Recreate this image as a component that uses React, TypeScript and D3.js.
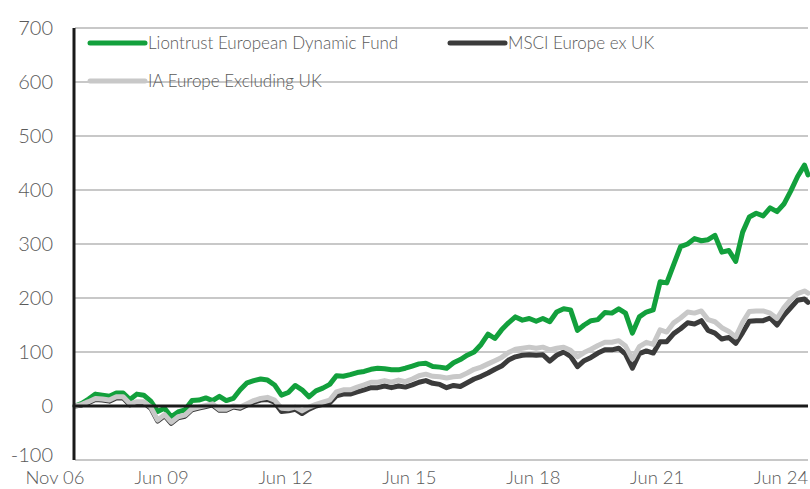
import React from "react";
import * as d3 from "d3";

const dates: string[] = [
  "2006-11",
  "2007-01", "2007-03", "2007-05", "2007-07", "2007-09", "2007-11",
  "2008-01", "2008-03", "2008-05", "2008-07", "2008-09", "2008-11",
  "2009-01", "2009-03", "2009-05", "2009-07", "2009-09", "2009-11",
  "2010-01", "2010-03", "2010-05", "2010-07", "2010-09", "2010-11",
  "2011-01", "2011-03", "2011-05", "2011-07", "2011-09", "2011-11",
  "2012-01", "2012-03", "2012-05", "2012-07", "2012-09", "2012-11",
  "2013-01", "2013-03", "2013-05", "2013-07", "2013-09", "2013-11",
  "2014-01", "2014-03", "2014-05", "2014-07", "2014-09", "2014-11",
  "2015-01", "2015-03", "2015-05", "2015-07", "2015-09", "2015-11",
  "2016-01", "2016-03", "2016-05", "2016-07", "2016-09", "2016-11",
  "2017-01", "2017-03", "2017-05", "2017-07", "2017-09", "2017-11",
  "2018-01", "2018-03", "2018-05", "2018-07", "2018-09", "2018-11",
  "2019-01", "2019-03", "2019-05", "2019-07", "2019-09", "2019-11",
  "2020-01", "2020-03", "2020-05", "2020-07", "2020-09", "2020-11",
  "2021-01", "2021-03", "2021-05", "2021-07", "2021-09", "2021-11",
  "2022-01", "2022-03", "2022-05", "2022-07", "2022-09", "2022-11",
  "2023-01", "2023-03", "2023-05", "2023-07", "2023-09", "2023-11",
  "2024-01", "2024-03", "2024-05", "2024-07", "2024-08",
];

const fund: number[] = [
  0,
  5, 13, 22, 20, 18, 24,
  24, 12, 22, 20, 9, -10,
  -4, -20, -11, -7, 10, 11,
  15, 10, 18, 10, 14, 30,
  43, 47, 50, 48, 39, 20,
  25, 38, 30, 17, 28, 33,
  40, 56, 55, 58, 62, 64,
  68, 70, 69, 67, 67, 70,
  74, 78, 79, 73, 72, 70,
  80, 86, 94, 100, 114, 133,
  125, 141, 154, 165, 159, 162,
  157, 162, 156, 174, 180, 178,
  140, 150, 158, 160, 173, 172,
  180, 172, 135, 165, 174, 178,
  230, 228, 262, 295, 300, 310,
  306, 308, 316, 285, 288, 268,
  322, 350, 357, 352, 367, 360,
  374, 398, 425, 446, 428,
];

const msci: number[] = [
  0,
  2, 6, 12, 11, 9, 15,
  15, 2, 6, 6, -4, -28,
  -18, -32, -22, -19, -7, -4,
  -1, 2, -8, -8, -2, -4,
  2, 7, 11, 12, 7, -10,
  -9, -6, -14, -6, 0, 3,
  6, 19, 22, 22, 26, 30,
  34, 34, 37, 34, 37, 35,
  39, 44, 47, 42, 40, 34,
  38, 36, 43, 50, 55, 61,
  68, 74, 85, 91, 94, 95,
  94, 95, 83, 94, 100, 92,
  73, 84, 90, 98, 104, 104,
  107, 96, 70, 97, 102, 98,
  119, 119, 134, 143, 154, 152,
  158, 140, 135, 124, 127, 116,
  136, 157, 158, 158, 163, 150,
  168, 182, 196, 198, 192,
];

const ia: number[] = [
  0,
  3, 8, 14, 13, 11, 17,
  17, 4, 8, 8, -2, -26,
  -16, -30, -20, -17, -5, -2,
  1, 4, -6, -6, 0, -2,
  4, 10, 14, 16, 11, -4,
  -5, -2, -9, -2, 3, 7,
  11, 26, 30, 30, 35, 39,
  44, 44, 47, 44, 48, 45,
  50, 56, 59, 55, 54, 52,
  54, 55, 61, 68, 72, 78,
  84, 90, 99, 105, 107, 109,
  107, 109, 104, 107, 109, 103,
  91, 99, 105, 112, 118, 118,
  121, 111, 87, 110, 118, 114,
  141, 137, 154, 163, 174, 172,
  176, 160, 156, 145, 138, 128,
  155, 175, 176, 176, 172, 162,
  182, 197, 208, 213, 209,
];

const yTicks: number[] = [-100, 0, 100, 200, 300, 400, 500, 600, 700];
const xTickDates: string[] = ["2006-11", "2009-06", "2012-06", "2015-06", "2018-06", "2021-06", "2024-06"];
const xTickLabels: string[] = ["Nov 06", "Jun 09", "Jun 12", "Jun 15", "Jun 18", "Jun 21", "Jun 24"];

const seriesNames = ["Liontrust European Dynamic Fund", "MSCI Europe ex UK", "IA Europe Excluding UK"];
const seriesColors = ["#12a03c", "#3b3b3b", "#c8c8c8"];

const W = 810;
const H = 489;
const FONT = "Lato, 'Open Sans', sans-serif";
const TEXT = "#5a5a5a";

export default function App() {
  const parse = d3.timeParse("%Y-%m");
  const dts = dates.map((d) => parse(d) as Date);
  const x = d3
    .scaleTime()
    .domain([dts[0], dts[dts.length - 1]])
    .range([75, 808]);
  const y = d3.scaleLinear().domain([-100, 700]).range([460, 28]);

  const line = d3
    .line<number>()
    .x((_, i) => x(dts[i]))
    .y((v) => y(v));

  const series = [fund, msci, ia];

  return (
    <svg
      width={W}
      height={H}
      style={{ position: "absolute", left: 0, top: 0, background: "#fff" }}
    >
      {yTicks
        .filter((t) => t !== 0)
        .map((t) => (
          <line key={"g" + t} x1={75} x2={808} y1={y(t)} y2={y(t)} stroke="#c8c8c8" strokeWidth={2} />
        ))}
      {yTicks.map((t) => (
        <text
          key={"yl" + t}
          x={53}
          y={y(t) - (t === -100 ? 5 : 0)}
          dy="0.35em"
          textAnchor="end"
          fontFamily={FONT}
          fontWeight={300}
          fontSize={20}
          fill={TEXT}
        >
          {t}
        </text>
      ))}
      {xTickDates.map((d, i) => (
        <text
          key={"xl" + d}
          x={x(parse(d) as Date) - 20}
          y={484}
          textAnchor="middle"
          fontFamily={FONT}
          fontWeight={300}
          fontSize={18.5}
          fill={TEXT}
        >
          {xTickLabels[i]}
        </text>
      ))}
      {series.map((s, i) => (
        <path
          key={"s" + i}
          d={line(s) || ""}
          fill="none"
          stroke={seriesColors[i]}
          strokeWidth={5}
          strokeLinejoin="round"
          strokeLinecap="round"
        />
      ))}
      <line x1={75} x2={808} y1={y(0)} y2={y(0)} stroke="#1a1a1a" strokeWidth={3} />
      <line x1={74} x2={74} y1={y(700)} y2={y(-100)} stroke="#1a1a1a" strokeWidth={3} />
      {[
        { i: 0, lx: 90, ly: 43 },
        { i: 1, lx: 450, ly: 43 },
        { i: 2, lx: 90, ly: 81 },
      ].map(({ i, lx, ly }) => (
        <g key={"lg" + i}>
          <line
            x1={lx}
            x2={lx + 55}
            y1={ly}
            y2={ly}
            stroke={seriesColors[i]}
            strokeWidth={5}
            strokeLinecap="round"
          />
          <text x={lx + 58} y={ly} dy="0.35em" fontFamily={FONT} fontWeight={300} fontSize={17} fill={TEXT}>
            {seriesNames[i]}
          </text>
        </g>
      ))}
    </svg>
  );
}
